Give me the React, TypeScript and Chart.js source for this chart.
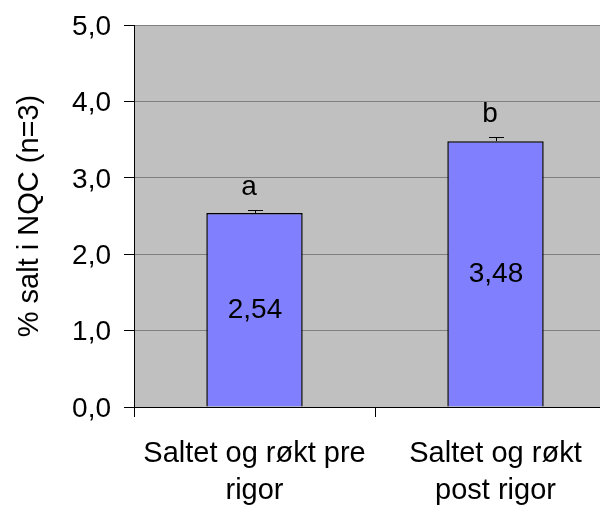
import { useEffect, useRef } from "react";
import { Chart, registerables } from "chart.js";

Chart.register(...registerables);

const categories: string[][] = [
  ["Saltet og røkt pre", "rigor"],
  ["Saltet og røkt", "post rigor"],
];
const values: number[] = [2.54, 3.48];
const errors: number[] = [0.045, 0.058];
const letters: string[] = ["a", "b"];
const valueLabels: string[] = ["2,54", "3,48"];
const yTickLabels: string[] = ["0,0", "1,0", "2,0", "3,0", "4,0", "5,0"];
const yTitle = "% salt i NQC (n=3)";

const FONT = "'Liberation Sans', Arial, sans-serif";

const annotPlugin = {
  id: "annot",
  beforeDraw(chart: any) {
    const { ctx, chartArea } = chart;
    ctx.save();
    ctx.fillStyle = "#C0C0C0";
    ctx.fillRect(chartArea.left, chartArea.top, chartArea.right - chartArea.left, chartArea.bottom - chartArea.top);
    ctx.restore();
  },
  afterDatasetsDraw(chart: any) {
    const ctx = chart.ctx;
    const meta = chart.getDatasetMeta(0);
    const y = chart.scales.y;
    meta.data.forEach((bar: any, i: number) => {
      const x = Math.round(bar.x);
      const top = y.getPixelForValue(values[i]);
      const capY = Math.round(y.getPixelForValue(values[i] + errors[i]));
      ctx.save();
      ctx.strokeStyle = "#000";
      ctx.lineWidth = 1;
      ctx.beginPath();
      ctx.moveTo(x + 0.5, top);
      ctx.lineTo(x + 0.5, capY + 0.5);
      ctx.moveTo(x - 7, capY + 0.5);
      ctx.lineTo(x + 8, capY + 0.5);
      ctx.stroke();
      ctx.fillStyle = "#000";
      ctx.font = `28px ${FONT}`;
      ctx.textAlign = "center";
      ctx.textBaseline = "alphabetic";
      ctx.fillText(letters[i], x - 6, capY - 15);
      ctx.textBaseline = "middle";
      ctx.fillText(valueLabels[i], x, (top + y.getPixelForValue(0)) / 2);
      ctx.restore();
    });
  },
};

export default function App() {
  const ref = useRef<HTMLCanvasElement | null>(null);
  useEffect(() => {
    if (!ref.current) return;
    const chart = new Chart(ref.current, {
      type: "bar",
      data: {
        labels: categories,
        datasets: [
          {
            data: values,
            backgroundColor: "#8080FF",
            borderColor: "#000000",
            borderWidth: 1.5,
            barPercentage: 0.4,
            categoryPercentage: 1,
          },
        ],
      },
      options: {
        animation: false,
        responsive: false,
        maintainAspectRatio: false,
        devicePixelRatio: 1,
        layout: { padding: { top: 17, left: 0, right: 0, bottom: 0 } },
        plugins: { legend: { display: false }, tooltip: { enabled: false } },
        scales: {
          x: {
            grid: {
              display: true,
              offset: true,
              drawOnChartArea: false,
              tickLength: 10,
              color: "#000",
            },
            border: { display: true, color: "#000", width: 1 },
            ticks: {
              color: "#000",
              font: { family: FONT, size: 29, lineHeight: "37px" },
              padding: 18,
              maxRotation: 0,
              autoSkip: false,
            },
            afterFit(scale: any) {
              scale.height = 98;
              scale.paddingLeft = 0;
              scale.paddingRight = 0;
            },
          },
          y: {
            min: 0,
            max: 5,
            grid: { color: "#808080", tickColor: "#000", tickLength: 10, lineWidth: 1 },
            border: { display: true, color: "#000", width: 1 },
            ticks: {
              stepSize: 1,
              color: "#000",
              font: { family: FONT, size: 28 },
              padding: 13,
              labelOffset: 2,
              callback: (_v: any, i: number) => yTickLabels[i],
            },
            title: {
              display: true,
              text: yTitle,
              color: "#000",
              font: { family: FONT, size: 29 },
              padding: { top: 5, bottom: 0 },
            },
            afterFit(scale: any) {
              scale.width = 126;
              scale.paddingTop = 0;
              scale.paddingBottom = 0;
            },
          },
        },
      },
      plugins: [annotPlugin],
    });
    return () => chart.destroy();
  }, []);
  return (
    <div style={{ width: 600, height: 497, overflow: "hidden" }}>
      <canvas ref={ref} width={608} height={497} style={{ display: "block" }} />
    </div>
  );
}
